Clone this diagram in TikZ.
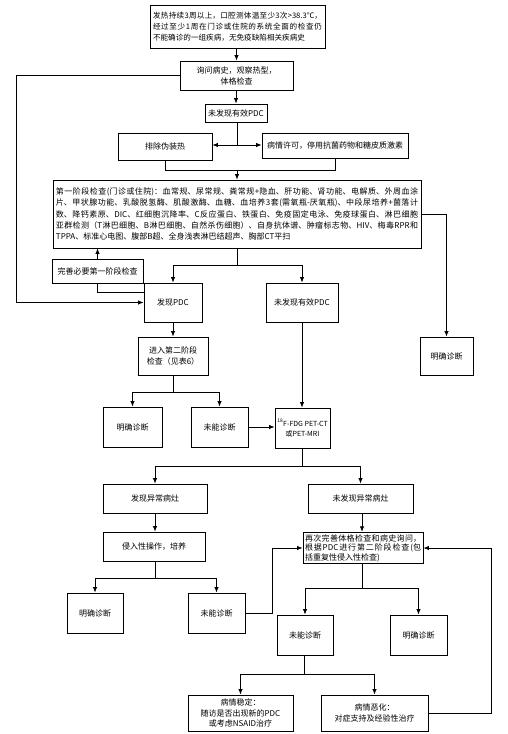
\documentclass[tikz,border=0pt]{standalone}
\usepackage{fontspec}
\setmainfont{Noto Sans CJK SC}
\usetikzlibrary{arrows.meta}
\XeTeXlinebreaklocale "zh"
\XeTeXlinebreakskip=0pt plus 1pt
\begin{document}
\begin{tikzpicture}[x=1bp,y=-1bp,
  box/.style={draw, line width=0.9bp, fill=white, inner sep=2bp, align=center,
    text=black, font=\fontsize{8bp}{11bp}\selectfont},
  ln/.style={line width=0.8bp},
  arr/.style={ln, -{Latex[length=5.5bp,width=4.5bp]}}]
\useasboundingbox[fill=white] (0,0) rectangle (508,734);

% nodes
\node[box, minimum width=175bp, minimum height=43bp, text width=169bp, inner sep=3bp, align=justify,
  font=\fontsize{7.6bp}{11bp}\selectfont] (top) at (237.5,26.5)
  {发热持续3周以上，口腔测体温至少3次>38.3℃，\linebreak 经过至少1周在门诊或住院的系统全面的检查仍\linebreak 不能确诊的一组疾病，无免疫缺陷相关疾病史};
\node[box, minimum width=113bp, minimum height=29bp] (q) at (236.5,75.5) {询问病史，观察热型，\\体格检查};
\node[box, minimum width=62bp, minimum height=18bp] (n1) at (236,113) {未发现有效PDC};
\node[box, minimum width=94bp, minimum height=27bp] (pc) at (165,146.5) {排除伪装热};
\node[box, minimum width=146bp, minimum height=25bp] (bq) at (335,145.5) {病情许可，停用抗菌药物和糖皮质激素};
\node[box, minimum width=368bp, minimum height=68bp, text width=362bp, inner sep=3bp, align=justify,
  font=\fontsize{8bp}{11.3bp}\selectfont] (big) at (237,214)
  {第一阶段检查(门诊或住院)：血常规、尿常规、粪常规+隐血、肝功能、肾功能、电解质、外周血涂\linebreak 片、甲状腺功能、乳酸脱氢酶、肌酸激酶、血糖、血培养3套(需氧瓶-厌氧瓶)、中段尿培养+菌落计\linebreak 数、降钙素原、DIC、红细胞沉降率、C反应蛋白、铁蛋白、免疫固定电泳、免疫球蛋白、淋巴细胞\linebreak 亚群检测（T淋巴细胞、B淋巴细胞、自然杀伤细胞）、自身抗体谱、肿瘤标志物、HIV、梅毒RPR和\linebreak TPPA、标准心电图、腹部B超、全身浅表淋巴结超声、胸部CT平扫};
\node[box, minimum width=91bp, minimum height=24bp] (ws) at (97.5,271) {完善必要第一阶段检查};
\node[box, minimum width=58bp, minimum height=39bp] (fp) at (173,302.5) {发现PDC};
\node[box, minimum width=72bp, minimum height=39bp] (np) at (302,302.5) {未发现有效PDC};
\node[box, minimum width=53bp, minimum height=38bp] (md1) at (446.5,356) {明确诊断};
\node[box, minimum width=70bp, minimum height=38bp] (j2) at (173,356) {进入第二阶段\\检查（见表6）};
\node[box, minimum width=59bp, minimum height=40bp] (md2) at (132.5,427) {明确诊断};
\node[box, minimum width=57bp, minimum height=40bp] (wn1) at (219.5,427) {未能诊断};
\node[box, minimum width=55bp, minimum height=40bp, inner sep=1bp,
  font=\fontsize{7bp}{10bp}\selectfont] (pet) at (302.5,428) {\textsuperscript{18}F-FDG PET-CT\\或PET-MRI};
\node[box, minimum width=104bp, minimum height=29bp] (fy) at (155,498.5) {发现异常病灶};
\node[box, minimum width=105bp, minimum height=29bp] (ny) at (360.5,498.5) {未发现异常病灶};
\node[box, minimum width=102bp, minimum height=29bp] (qr) at (154,546.5) {侵入性操作，培养};
\node[box, minimum width=56bp, minimum height=40bp] (md3) at (95,613) {明确诊断};
\node[box, minimum width=57bp, minimum height=40bp] (wn2) at (216.5,613) {未能诊断};
\node[box, minimum width=120bp, minimum height=30bp, text width=116bp, align=justify,
  font=\fontsize{8bp}{9.6bp}\selectfont] (zc) at (363,548)
  {再次完善体格检查和病史询问，\linebreak 根据PDC进行第二阶段检查(包\linebreak 括重复性侵入性检查)};
\node[box, minimum width=56bp, minimum height=40bp] (wn3) at (305,635) {未能诊断};
\node[box, minimum width=57bp, minimum height=40bp] (md4) at (418.5,635) {明确诊断};
\node[box, minimum width=105bp, minimum height=36bp, font=\fontsize{8bp}{10.5bp}\selectfont] (wd) at (240.5,713)
  {病情稳定：\\随访是否出现新的PDC\\或考虑NSAID治疗};
\node[box, minimum width=107bp, minimum height=36bp, font=\fontsize{8bp}{11bp}\selectfont] (eh) at (374.5,713)
  {病情恶化：\\对症支持及经验性治疗};

% helper coordinates
\coordinate (L) at (16,0);
\coordinate (k1) at (237,145);
\coordinate (k2) at (237,170);
\coordinate (k3) at (237,265);
\coordinate (k4) at (173,392);
\coordinate (k5) at (302,466);
\coordinate (k6) at (155,578);
\coordinate (k7) at (272,548);
\coordinate (k8) at (362,588);
\coordinate (k9) at (304,674);
\coordinate (R) at (491,0);

% connectors
\draw[arr] (top.south -| q.north) -- (q.north);
\draw[arr] (q.south -| n1.north) -- (n1.north);
\draw[ln] (n1.south -| k1) -- (k1);
\draw[arr] (k1) -- (k1 -| pc.east);
\draw[arr] (k1) -- (k1 -| bq.west);
\draw[ln] (pc.south) -- (pc.south |- k2) -| (bq.south);
\draw[arr] (k2) -- (k2 |- big.north);
\draw[arr] (big.east) -| (md1.north);
\draw[arr] (q.west) -- (q.west -| L) |- (fp.west);
\draw[ln] ([yshift=10.5bp]fp.west) -| (ws.south);
\draw[arr] (ws.north) -- (ws.north |- big.south);
\draw[ln] (big.south) -- (k3);
\draw[arr] (k3) -| (fp.north);
\draw[arr] (k3) -| (np.north);
\draw[arr] (fp.south) -- (j2.north);
\draw[ln] (j2.south) -- (k4);
\draw[arr] (k4) -| (md2.north);
\draw[arr] (k4) -| (wn1.north);
\draw[arr] (np.south) -- (np.south |- pet.north);
\draw[arr] (wn1.east) -- (wn1.east -| pet.west);
\draw[ln] (pet.south -| k5) -- (k5);
\draw[arr] (k5) -| (fy.north);
\draw[arr] (k5) -| (ny.north);
\draw[arr] (fy.south) -- (fy.south |- qr.north);
\draw[ln] (qr.south -| k6) -- (k6);
\draw[arr] (k6) -| (md3.north);
\draw[arr] (k6) -| (wn2.north);
\draw[arr] (wn2.east) -| (k7) -- (zc.west);
\draw[arr] (ny.south -| k8) -- (k8 |- zc.north);
\draw[ln] (zc.south -| k8) -- (k8);
\draw[arr] (k8) -| (wn3.north);
\draw[arr] (k8) -| (md4.north);
\draw[ln] (wn3.south -| k9) -- (k9);
\draw[arr] (k9) -| (wd.north);
\draw[arr] (k9) -| (eh.north);
\draw[arr] (eh.east) -- (eh.east -| R) |- (zc.east);
\end{tikzpicture}
\end{document}
